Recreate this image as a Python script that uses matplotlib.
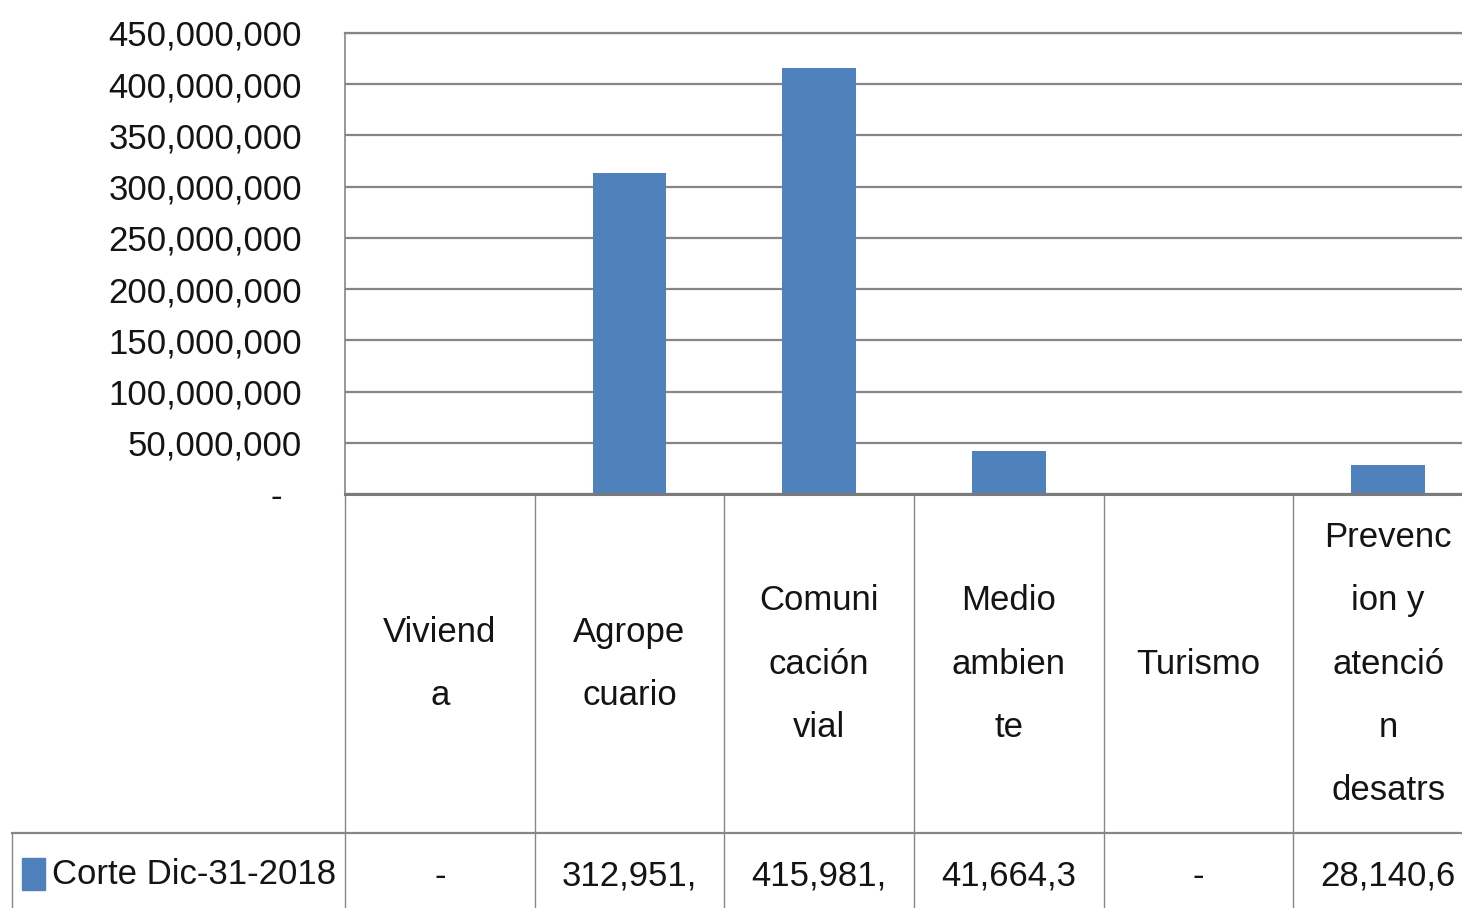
import numpy as np
import matplotlib
matplotlib.use('Agg')
import matplotlib.pyplot as plt
import matplotlib.transforms as mtransforms
from matplotlib.ticker import FuncFormatter
from matplotlib.lines import Line2D
from matplotlib.patches import Rectangle

categories = ['Viviend\na', 'Agrope\ncuario', 'Comuni\ncación\nvial', 'Medio\nambien\nte',
              'Turismo', 'Prevenc\nion y\natenció\nn\ndesatrs']
values = [0, 312951000, 415981000, 41664300, 0, 28140600]
series_name = 'Corte Dic-31-2018'
y_ticks = np.arange(0, 450000001, 50000000)

BLUE = '#4F81BD'
GRID = '#868686'
TXT = '#141414'
W, H = 1462, 908
FS = 25

plt.rcParams['font.family'] = ['Liberation Sans', 'DejaVu Sans']


def fx(px):
    return px / W


def fy(py):
    return 1 - py / H


fig = plt.figure(figsize=(W / 100, H / 100), dpi=100)
ax = fig.add_axes([fx(345), fy(494), fx(1483) - fx(345), fy(33) - fy(494)])

x = np.arange(len(values))
ax.bar(x, values, width=0.39, color=BLUE, zorder=3)
ax.set_xlim(-0.5, len(values) - 0.5)
ax.set_ylim(0, 450000000)
ax.set_yticks(y_ticks)
ax.yaxis.set_major_formatter(FuncFormatter(lambda v, p: '{:,.0f}'.format(v) if v else '-  '))
ax.tick_params(axis='y', length=0, pad=31, labelsize=FS, labelcolor=TXT)
ax.set_xticks([])
ax.grid(axis='y', color=GRID, lw=1.6, zorder=0)
ax.spines['right'].set_visible(False)
ax.spines['bottom'].set_visible(False)
ax.spines['top'].set_color(GRID)
ax.spines['top'].set_linewidth(1.6)
ax.spines['left'].set_color(GRID)
ax.spines['left'].set_linewidth(1.2)
ax.axhline(0, color='#7a7a7a', lw=2.2, zorder=4, clip_on=False)

# data table under the chart
trans = mtransforms.blended_transform_factory(ax.transData, fig.transFigure)
for i in range(len(values) + 1):
    ax.add_line(Line2D([i - 0.5, i - 0.5], [fy(494), fy(908)], transform=trans,
                       color=GRID, lw=1.0, clip_on=False))
fig.add_artist(Line2D([fx(12), 1], [fy(833), fy(833)], transform=fig.transFigure,
                      color=GRID, lw=1.6))
fig.add_artist(Line2D([fx(12), fx(12)], [fy(833), fy(908)], transform=fig.transFigure,
                      color=GRID, lw=1.0))

for i, (cat, v) in enumerate(zip(categories, values)):
    ax.text(i, fy(664), cat, transform=trans, ha='center', va='center',
            fontsize=FS, color=TXT, linespacing=2.16, clip_on=False)
    label = '{:,.0f}'.format(v)[:8] if v else '-'
    ax.text(i, fy(876), label, transform=trans, ha='center', va='center',
            fontsize=FS, color=TXT, clip_on=False)

fig.add_artist(Rectangle((fx(22), fy(890)), fx(45) - fx(22), fy(858) - fy(890),
                         transform=fig.transFigure, color=BLUE))
fig.text(fx(52), fy(874), series_name, ha='left', va='center', fontsize=FS, color=TXT)

fig.savefig('out.png', dpi=100)
